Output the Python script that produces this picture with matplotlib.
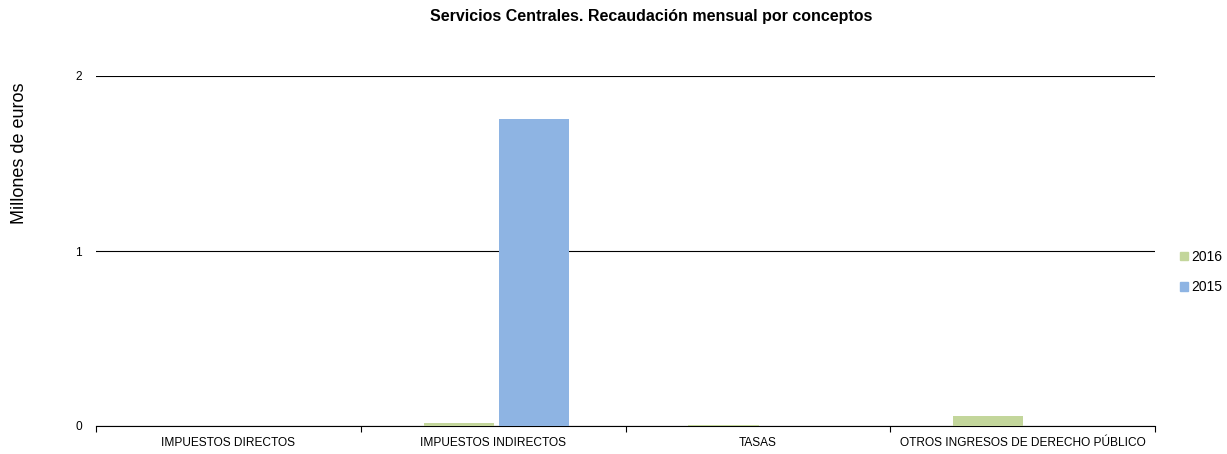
import matplotlib
matplotlib.use("Agg")
import matplotlib.pyplot as plt
import numpy as np
from matplotlib.patches import Patch

plt.rcParams['font.family'] = ['Liberation Sans', 'DejaVu Sans']

categories = ["IMPUESTOS DIRECTOS", "IMPUESTOS INDIRECTOS", "TASAS",
              "OTROS INGRESOS DE DERECHO PÚBLICO"]
vals_2016 = [0.0, 0.015, 0.007, 0.055]
vals_2015 = [0.0, 1.754, 0.0, 0.0]
yticks = [0, 1, 2]

c2016 = "#C3D69B"
c2015 = "#8EB4E3"

fig = plt.figure(figsize=(12.27, 4.54), dpi=100)
ax = fig.add_axes([96/1227, 28/454, (1155-96)/1227, (426-76)/454])

x = np.arange(len(categories))
w = 0.265
ax.bar(x - 0.13, vals_2016, width=w, color=c2016, zorder=3)
ax.bar(x + 0.155, vals_2015, width=w, color=c2015, zorder=3)

ax.set_xlim(-0.5, len(categories) - 0.5)
ax.set_ylim(0, 2)
ax.set_yticks(yticks)
ax.set_yticklabels([str(t) for t in yticks], fontsize=8.6)
ax.tick_params(axis='y', length=0, pad=10)
ax.set_xticks(x)
ax.set_xticklabels(categories, fontsize=8.6)
ax.tick_params(axis='x', length=0, pad=8)
# boundary ticks
ax.set_xticks(np.arange(len(categories) + 1) - 0.5, minor=True)
ax.tick_params(axis='x', which='minor', length=4, width=0.8, direction='out')

for s in ['top', 'right', 'left']:
    ax.spines[s].set_visible(False)
ax.spines['bottom'].set_linewidth(0.8)
ax.yaxis.grid(True, color='black', linewidth=0.8, zorder=0)
ax.set_axisbelow(True)

fig.text(20/1227, 1 - 153/454, "Millones de euros", rotation=90,
         ha='center', va='center', fontsize=13)
fig.text(651/1227, 1 - 17/454, "Servicios Centrales. Recaudación mensual por conceptos",
         ha='center', va='center', fontsize=11.5, fontweight='bold')

handles = [Patch(color=c2016, label="2016"), Patch(color=c2015, label="2015")]
fig.legend(handles=handles, loc='center left', bbox_to_anchor=(1180/1227, 1 - 272/454),
           frameon=False, fontsize=10, handlelength=0.55, handleheight=0.55,
           handletextpad=0.25, labelspacing=1.2, borderpad=0, borderaxespad=0)

fig.savefig("out.png", dpi=100)
